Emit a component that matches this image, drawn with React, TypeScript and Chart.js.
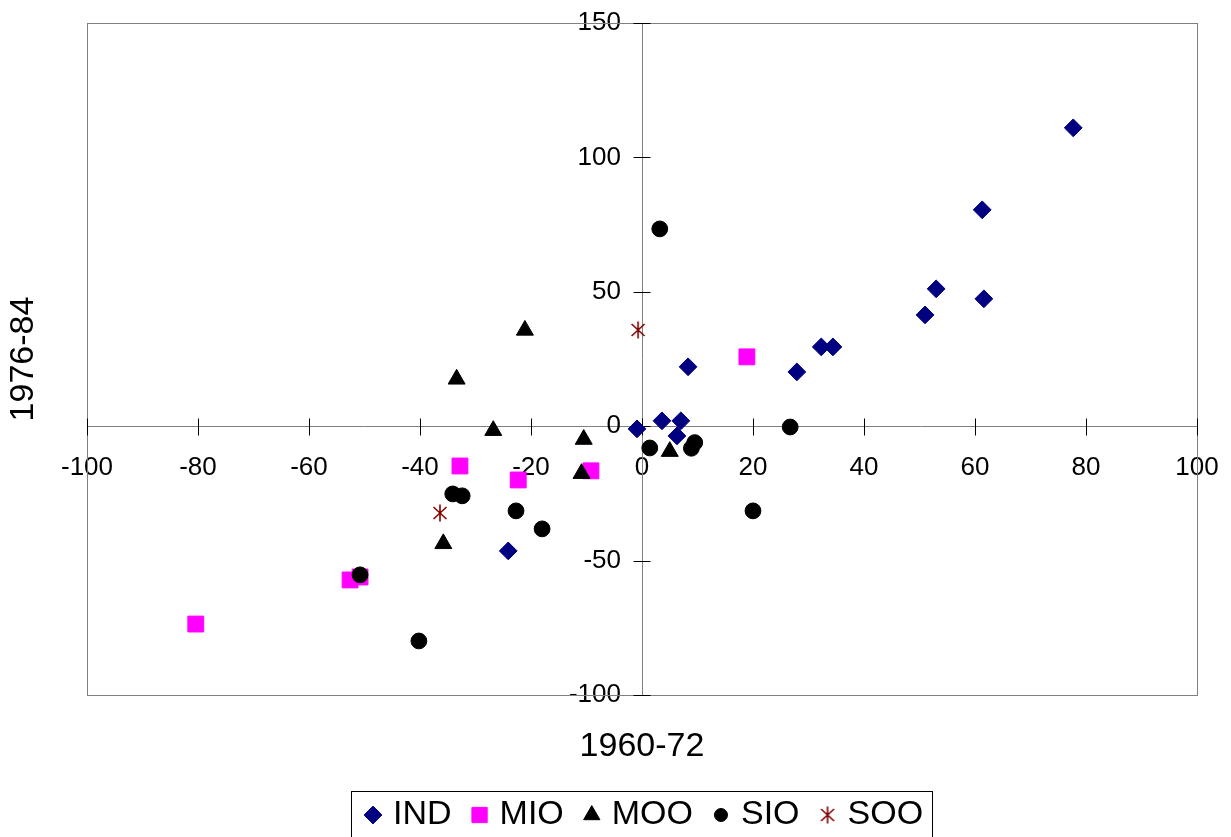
import React, { useEffect, useRef } from 'react';
import { Chart, registerables } from 'chart.js';
import { drawPoint } from 'chart.js/helpers';

Chart.register(...registerables);

// ---------- data ----------
const SERIES_NAMES = ['IND', 'MIO', 'MOO', 'SIO', 'SOO'];
const X_TITLE = '1960-72';
const Y_TITLE = '1976-84';
const X_TICKS = [-100, -80, -60, -40, -20, 0, 20, 40, 60, 80, 100];
const Y_TICKS = [-100, -50, 0, 50, 100, 150];

const IND_X = [77.7, 61.3, 61.6, 53.0, 51.0, 34.4, 32.3, 27.9, 8.3, 3.6, 7.0, 6.3, -0.9, -24.1];
const IND_Y = [111.0, 80.5, 47.4, 51.1, 41.4, 29.5, 29.5, 20.2, 22.1, 2.0, 2.0, -3.6, -1.0, -46.4];

const MIO_X = [18.9, -32.8, -22.3, -9.2, -52.6, -50.8, -80.4];
const MIO_Y = [25.8, -14.8, -20.0, -16.6, -57.2, -56.1, -73.6];

const MOO_X = [-21.1, -33.4, -26.8, -10.5, -10.9, -35.8, 5.0];
const MOO_Y = [35.7, 17.5, -1.6, -4.9, -17.6, -43.7, -9.4];

const SIO_X = [3.2, 1.4, 8.9, 9.5, 26.7, 20.0, -34.1, -32.4, -22.7, -18.0, -50.8, -40.2];
const SIO_Y = [73.4, -8.1, -8.2, -6.1, -0.3, -31.5, -25.2, -25.9, -31.5, -38.2, -55.3, -79.9];

const SOO_X = [-0.7, -36.4];
const SOO_Y = [35.8, -32.3];

const SERIES_X = [IND_X, MIO_X, MOO_X, SIO_X, SOO_X];
const SERIES_Y = [IND_Y, MIO_Y, MOO_Y, SIO_Y, SOO_Y];

// ---------- styles ----------
const COLORS = ['#000080', '#FF00FF', '#000000', '#000000', '#800000'];
const FONT = '"Liberation Sans", Arial, Helvetica, sans-serif';

function makeStar(): HTMLCanvasElement {
  const c = document.createElement('canvas');
  c.width = 18;
  c.height = 18;
  const g = c.getContext('2d')!;
  g.strokeStyle = '#800000';
  g.lineWidth = 1.6;
  g.beginPath();
  g.moveTo(9, 0.5);
  g.lineTo(9, 17.5);
  g.moveTo(2.5, 3);
  g.lineTo(15.5, 15);
  g.moveTo(15.5, 3);
  g.lineTo(2.5, 15);
  g.stroke();
  return c;
}

export default function App() {
  const canvasRef = useRef<HTMLCanvasElement | null>(null);

  useEffect(() => {
    const star = makeStar();
    const styles: any[] = [
      { pointStyle: 'rectRot', radius: 8.9, legendRadius: 8.9 },
      { pointStyle: 'rect', radius: 11.2, legendRadius: 10.8 },
      { pointStyle: 'triangle', radius: 9.8, legendRadius: 9.4 },
      { pointStyle: 'circle', radius: 7.9, legendRadius: 6.5 },
      { pointStyle: star, radius: 9, legendRadius: 9 },
    ];

    const datasets = SERIES_NAMES.map((name, i) => ({
      label: name,
      data: SERIES_X[i].map((x, j) => ({ x, y: SERIES_Y[i][j] })),
      pointStyle: styles[i].pointStyle,
      pointRadius: styles[i].radius,
      pointBackgroundColor: COLORS[i],
      pointBorderColor: COLORS[i],
      pointBorderWidth: i === 4 ? 0 : 1,
      showLine: false,
      order: SERIES_NAMES.length - i,
    }));

    const decor = {
      id: 'decor',
      beforeDatasetsDraw(chart: any) {
        const { ctx, chartArea: a, scales } = chart;
        ctx.save();
        ctx.strokeStyle = '#808080';
        ctx.lineWidth = 1;
        ctx.strokeRect(Math.round(a.left) + 0.5, Math.round(a.top) + 0.5,
          Math.round(a.right - a.left), Math.round(a.bottom - a.top));
        const x0 = Math.round(scales.x.getPixelForValue(0)) + 0.5;
        const y0 = Math.round(scales.y.getPixelForValue(0)) + 0.5;
        ctx.strokeStyle = '#000000';
        ctx.beginPath();
        scales.x.ticks.forEach((t: any) => {
          const px = Math.round(scales.x.getPixelForValue(t.value)) + 0.5;
          ctx.moveTo(px, y0 - 8);
          ctx.lineTo(px, y0 + 9);
        });
        scales.y.ticks.forEach((t: any) => {
          const py = Math.round(scales.y.getPixelForValue(t.value)) + 0.5;
          ctx.moveTo(x0 - 9, py);
          ctx.lineTo(x0 + 8, py);
        });
        ctx.stroke();
        ctx.restore();
      },
      afterDraw(chart: any) {
        const { ctx, chartArea: a } = chart;
        ctx.save();
        ctx.fillStyle = '#000';
        ctx.font = `34px ${FONT}`;
        ctx.textAlign = 'center';
        ctx.textBaseline = 'middle';
        const cx = (a.left + a.right) / 2;
        const cy = (a.top + a.bottom) / 2;
        ctx.fillText(X_TITLE, cx, 747);
        ctx.save();
        ctx.translate(24, cy);
        ctx.rotate(-Math.PI / 2);
        ctx.fillText(Y_TITLE, 0, 0);
        ctx.restore();

        // legend
        ctx.font = `34px ${FONT}`;
        ctx.textAlign = 'left';
        const widths = SERIES_NAMES.map((n) => ctx.measureText(n).width);
        const content = widths.reduce((s, w) => s + 28 + w, 0) + 20 * (SERIES_NAMES.length - 1);
        const boxW = content + 23;
        const boxL = Math.round(cx - boxW / 2);
        const boxT = 791;
        ctx.strokeStyle = '#000';
        ctx.lineWidth = 1;
        ctx.strokeRect(boxL + 0.5, boxT + 0.5, Math.round(boxW), 60);
        let x = boxL + 14;
        const ly = 815;
        SERIES_NAMES.forEach((n, i) => {
          ctx.fillStyle = COLORS[i];
          ctx.strokeStyle = COLORS[i];
          ctx.lineWidth = 1;
          drawPoint(ctx, {
            pointStyle: styles[i].pointStyle,
            rotation: 0,
            radius: styles[i].legendRadius,
            borderWidth: i === 4 ? 0 : 1,
          } as any, x + 8, ly);
          ctx.fillStyle = '#000';
          ctx.fillText(n, x + 28, ly);
          x += 28 + widths[i] + 20;
        });
        ctx.restore();
      },
    };

    const chart = new Chart(canvasRef.current!, {
      type: 'scatter',
      data: { datasets: datasets as any },
      options: {
        animation: false,
        responsive: true,
        maintainAspectRatio: false,
        layout: { padding: { left: 87, top: 23, right: 34, bottom: 142 } },
        plugins: {
          legend: { display: false },
          tooltip: { enabled: false },
        },
        scales: {
          x: {
            type: 'linear',
            position: { y: 0 } as any,
            min: X_TICKS[0],
            max: X_TICKS[X_TICKS.length - 1],
            grid: { display: true, drawOnChartArea: false, drawTicks: false },
            border: { display: true, color: '#808080', width: 1 },
            ticks: {
              stepSize: X_TICKS[1] - X_TICKS[0],
              autoSkip: false,
              maxRotation: 0,
              padding: 5,
              color: '#000',
              font: { family: FONT, size: 26, lineHeight: 2.85 },
            },
          },
          y: {
            type: 'linear',
            position: 'center',
            min: Y_TICKS[0],
            max: Y_TICKS[Y_TICKS.length - 1],
            grid: { display: true, drawOnChartArea: false, drawTicks: false },
            border: { display: true, color: '#808080', width: 1 },
            ticks: {
              stepSize: Y_TICKS[1] - Y_TICKS[0],
              autoSkip: false,
              padding: 21,
              color: '#000',
              font: { family: FONT, size: 26, lineHeight: 0.05 },
            },
          },
        },
      },
      plugins: [decor],
    });
    return () => chart.destroy();
  }, []);

  return (
    <div style={{ position: 'fixed', left: 0, top: 0, width: 1231, height: 837, background: '#fff' }}>
      <canvas ref={canvasRef} />
    </div>
  );
}
